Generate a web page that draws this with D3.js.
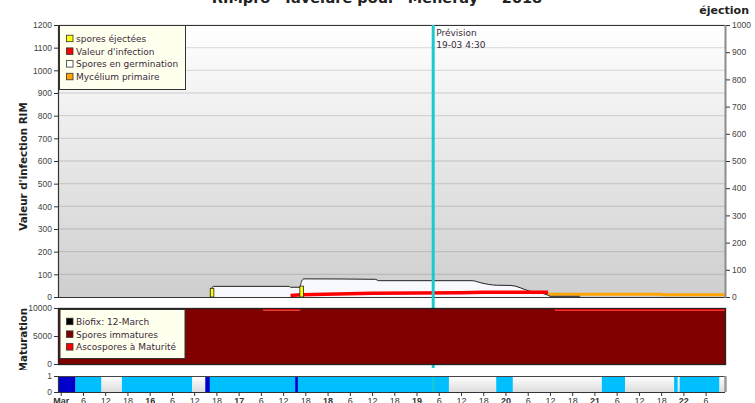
<!DOCTYPE html>
<html>
<head>
<meta charset="utf-8">
<script src="https://cdn.jsdelivr.net/npm/d3@7"></script>
<style>
  body { margin: 0; background: #fff; }
  svg { display: block; font-family: "DejaVu Sans", sans-serif; }
</style>
</head>
<body>
<svg width="755" height="403"></svg>
<script>
const parse = d3.timeParse('%Y-%m-%d %H:%M');

// DATA
const germTimes = ['2018-03-16 16:30','2018-03-16 16:50','2018-03-16 17:10','2018-03-17 13:40','2018-03-17 14:00','2018-03-17 16:30','2018-03-17 17:00','2018-03-17 17:40','2018-03-18 13:00','2018-03-18 13:40','2018-03-19 15:00','2018-03-19 17:30','2018-03-19 21:30','2018-03-20 01:30','2018-03-20 06:30','2018-03-20 11:30','2018-03-20 12:00','2018-03-20 20:00','2018-03-20 20:10'];
const germValues = [0, 40, 47, 47, 43, 43, 70, 80, 78, 72, 72, 62, 52, 51, 26, 8, 3, 3, 0];

const infTimes = ['2018-03-17 14:00','2018-03-17 17:00','2018-03-18 12:00','2018-03-19 12:00','2018-03-19 18:00','2018-03-20 11:30'];
const infValues = [7, 10, 16, 19, 21, 21];

const ejectTimes = ['2018-03-16 16:50','2018-03-17 17:00'];
const ejectValues = [32, 40];

const mycTimes = ['2018-03-20 11:30','2018-03-21 18:00','2018-03-21 18:30','2018-03-22 11:14'];
const mycValues = [12, 12, 10, 10];

const matTimes = ['2018-03-14 23:32','2018-03-17 06:35','2018-03-17 16:35','2018-03-20 13:25','2018-03-22 11:14'];
const immature = [9800, 9550, 9800, 9500, 9500];
const mature = [0, 250, 0, 300, 300];

const wetTimes = ['2018-03-14 23:32','2018-03-15 04:00','2018-03-15 11:00','2018-03-15 16:30','2018-03-16 11:30','2018-03-16 15:00','2018-03-16 16:15','2018-03-17 15:15','2018-03-17 16:00','2018-03-19 08:45','2018-03-19 21:30','2018-03-20 02:00','2018-03-21 02:00','2018-03-21 08:15','2018-03-21 21:30','2018-03-21 22:30','2018-03-21 23:00','2018-03-22 09:45'];
const wetState = ['pluie','humide','sec','humide','sec','pluie','humide','pluie','humide','sec','humide','sec','humide','sec','humide','sec','humide','sec'];

const legendTop = ['spores éjectées', "Valeur d'infection", 'Spores en germination', 'Mycélium primaire'];
const legendTopColors = ['#ffff00', '#ff0000', '#ffffff', '#ffa500'];
const legendMat = ['Biofix: 12-March', 'Spores immatures', 'Ascospores à Maturité'];
const legendMatColors = ['#000000', '#800000', '#ff0000'];

const forecast = '2018-03-19 04:30';
const domainStart = '2018-03-14 23:32';
const domainEnd = '2018-03-22 11:14';

// LAYOUT
const svg = d3.select('svg');
const L = 59, R = 725;
const T1 = 25, B1 = 297;
const T2 = 308, B2 = 364;
const T3 = 376, B3 = 392;
const ink = '#333';
const fmt = d3.format('d');

const x = d3.scaleTime().domain([parse(domainStart), parse(domainEnd)]).range([L, R]);
const yL = d3.scaleLinear().domain([0, 1200]).range([B1, T1]);
const yR = d3.scaleLinear().domain([0, 1000]).range([B1, T1]);
const yM = d3.scaleLinear().domain([0, 10000]).range([B2, T2]);
const yW = d3.scaleLinear().domain([0, 1]).range([B3, T3]);

const defs = svg.append('defs');
const bg = defs.append('linearGradient').attr('id', 'bgGrad')
  .attr('x1', 0).attr('y1', 0).attr('x2', 0).attr('y2', 1);
bg.append('stop').attr('offset', '0%').attr('stop-color', '#ffffff');
bg.append('stop').attr('offset', '100%').attr('stop-color', '#cecece');
const dry = defs.append('linearGradient').attr('id', 'dryGrad')
  .attr('x1', 0).attr('y1', 0).attr('x2', 0).attr('y2', 1);
dry.append('stop').attr('offset', '0%').attr('stop-color', '#ffffff');
dry.append('stop').attr('offset', '100%').attr('stop-color', '#dcdcdc');
defs.append('clipPath').attr('id', 'clipTop')
  .append('rect').attr('x', L).attr('y', T1).attr('width', R - L).attr('height', B1 - T1);
defs.append('clipPath').attr('id', 'clipMatLabel')
  .append('rect').attr('x', 0).attr('y', 300).attr('width', 50).attr('height', 70);

function styleAxis(g, size) {
  g.select('.domain').remove();
  g.selectAll('.tick line').attr('stroke', ink);
  g.selectAll('.tick text').attr('fill', '#444').style('font-size', size || '8.5px');
}

// TITLE
svg.append('text')
  .attr('x', 377).attr('y', 3)
  .attr('text-anchor', 'middle')
  .style('font-weight', 'bold').style('font-size', '14.5px').attr('fill', '#222')
  .text('RIMpro "Tavelure pour" Meneray" - 2018');

svg.append('text')
  .attr('x', 749).attr('y', 14)
  .attr('text-anchor', 'end')
  .style('font-weight', 'bold').style('font-size', '11px').attr('fill', '#222')
  .text('éjection');

// TOP PANEL
svg.append('rect')
  .attr('x', L).attr('y', T1).attr('width', R - L).attr('height', B1 - T1)
  .attr('fill', 'url(#bgGrad)');

svg.append('g')
  .selectAll('line')
  .data(d3.range(100, 1201, 100))
  .join('line')
    .attr('x1', L).attr('x2', R)
    .attr('y1', d => yL(d)).attr('y2', d => yL(d))
    .attr('stroke', '#000').attr('stroke-opacity', 0.11).attr('stroke-width', 1.3);

const plot = svg.append('g').attr('clip-path', 'url(#clipTop)');

const myc = mycTimes.map((t, i) => ({ t: parse(t), v: mycValues[i] }));
plot.append('path')
  .datum(myc)
  .attr('d', d3.line().x(d => x(d.t)).y(d => yL(d.v)))
  .attr('fill', 'none').attr('stroke', '#ffa500').attr('stroke-width', 3);

const germ = germTimes.map((t, i) => ({ t: parse(t), v: germValues[i] }));
plot.append('path')
  .datum(germ)
  .attr('d', d3.area().x(d => x(d.t)).y0(B1).y1(d => yL(d.v)))
  .attr('fill', '#f8f8ff');
plot.append('path')
  .datum(germ)
  .attr('d', d3.line().x(d => x(d.t)).y(d => yL(d.v)).curve(d3.curveMonotoneX))
  .attr('fill', 'none').attr('stroke', '#222').attr('stroke-width', 1);

const inf = infTimes.map((t, i) => ({ t: parse(t), v: infValues[i] }));
plot.append('path')
  .datum(inf)
  .attr('d', d3.line().x(d => x(d.t)).y(d => yL(d.v)))
  .attr('fill', 'none').attr('stroke', '#ff0000').attr('stroke-width', 3.5);

const eject = ejectTimes.map((t, i) => ({ t: parse(t), v: ejectValues[i] }));
plot.selectAll('rect.eject')
  .data(eject)
  .join('rect')
    .attr('class', 'eject')
    .attr('x', d => x(d.t) - 1.8).attr('width', 3.6)
    .attr('y', d => yR(d.v)).attr('height', d => B1 - yR(d.v))
    .attr('fill', '#ffff00').attr('stroke', '#222').attr('stroke-width', 0.8);

// frame
svg.append('line').attr('x1', L).attr('x2', R).attr('y1', T1 + 0.5).attr('y2', T1 + 0.5)
  .attr('stroke', ink).attr('stroke-width', 1.2);
svg.append('line').attr('x1', L).attr('x2', R).attr('y1', B1 + 0.5).attr('y2', B1 + 0.5)
  .attr('stroke', ink).attr('stroke-width', 1.2);
svg.append('line').attr('x1', L - 0.5).attr('x2', L - 0.5).attr('y1', T1).attr('y2', B1 + 1)
  .attr('stroke', ink).attr('stroke-width', 1.2);
svg.append('line').attr('x1', R + 0.5).attr('x2', R + 0.5).attr('y1', T1).attr('y2', B1 + 1)
  .attr('stroke', '#8c8c8c').attr('stroke-width', 2);

svg.append('g')
  .attr('transform', `translate(${L - 1},0)`)
  .call(d3.axisLeft(yL).tickValues(d3.range(0, 1201, 100)).tickSize(4).tickPadding(2).tickFormat(fmt))
  .call(styleAxis);
svg.append('g')
  .attr('transform', `translate(${R + 1},0)`)
  .call(d3.axisRight(yR).tickValues(d3.range(0, 1001, 100)).tickSize(4).tickPadding(2).tickFormat(fmt))
  .call(styleAxis);

svg.append('text')
  .attr('transform', `translate(27,${(103 + 230) / 2}) rotate(-90)`)
  .attr('text-anchor', 'middle')
  .style('font-weight', 'bold').style('font-size', '10.3px').attr('fill', '#222')
  .text("Valeur d'infection RIM");

// forecast
const xf = x(parse(forecast));
svg.append('line')
  .attr('x1', xf).attr('x2', xf).attr('y1', T1).attr('y2', 368)
  .attr('stroke', '#1cc9cc').attr('stroke-width', 3);
svg.append('text')
  .attr('x', xf + 3).attr('y', 36)
  .style('font-size', '9px').attr('fill', '#3a2a3a')
  .text('Prévision');
svg.append('text')
  .attr('x', xf + 3).attr('y', 47.5)
  .style('font-size', '9px').attr('fill', '#3a2a3a')
  .text('19-03 4:30');

// legend top
const lg1 = svg.append('g');
lg1.append('rect')
  .attr('x', L + 0.5).attr('y', T1 + 0.5).attr('width', 126).attr('height', 64)
  .attr('fill', '#ffffee').attr('stroke', ink).attr('stroke-width', 1);
legendTop.forEach((name, i) => {
  const cy = 38.7 + i * 12.7;
  lg1.append('rect')
    .attr('x', 66.5).attr('y', cy - 3.5).attr('width', 6.5).attr('height', 6.5)
    .attr('fill', legendTopColors[i]).attr('stroke', ink).attr('stroke-width', 0.8);
  lg1.append('text')
    .attr('x', 76).attr('y', cy + 3.3)
    .style('font-size', '9px').attr('fill', '#3a2a3a')
    .text(name);
});

// MATURATION PANEL
const mat = matTimes.map((t, i) => ({ t: parse(t), imm: immature[i], mat: mature[i] }));
svg.append('path')
  .datum(mat)
  .attr('d', d3.area().curve(d3.curveStepAfter).x(d => x(d.t)).y0(B2).y1(d => yM(d.imm)))
  .attr('fill', '#800000');
svg.append('path')
  .datum(mat)
  .attr('d', d3.area().curve(d3.curveStepAfter).x(d => x(d.t)).y0(d => yM(d.imm)).y1(d => yM(d.imm + d.mat)))
  .attr('fill', '#ff0000');
svg.append('rect')
  .attr('x', L - 0.5).attr('y', T2 + 0.5).attr('width', R - L + 1).attr('height', B2 - T2)
  .attr('fill', 'none').attr('stroke', '#222').attr('stroke-width', 1.3);

svg.append('g')
  .attr('transform', `translate(${L - 1},0)`)
  .call(d3.axisLeft(yM).tickValues([0, 5000, 10000]).tickSize(4).tickPadding(2).tickFormat(fmt))
  .call(styleAxis);

svg.append('g').attr('clip-path', 'url(#clipMatLabel)')
  .append('text')
  .attr('transform', 'translate(27,340) rotate(-90)')
  .attr('text-anchor', 'middle')
  .style('font-weight', 'bold').style('font-size', '10.3px').attr('fill', '#222')
  .text('Maturation');

const lg2 = svg.append('g');
lg2.append('rect')
  .attr('x', L + 1).attr('y', 309.5).attr('width', 125).attr('height', 49)
  .attr('fill', '#ffffee').attr('stroke', ink).attr('stroke-width', 1);
legendMat.forEach((name, i) => {
  const cy = 321.7 + i * 12.7;
  lg2.append('rect')
    .attr('x', 66.5).attr('y', cy - 3.5).attr('width', 6.5).attr('height', 6.5)
    .attr('fill', legendMatColors[i]).attr('stroke', ink).attr('stroke-width', 0.8);
  lg2.append('text')
    .attr('x', 76).attr('y', cy + 3.3)
    .style('font-size', '9px').attr('fill', '#3a2a3a')
    .text(name);
});

// WETNESS BAR
const wetColor = { pluie: '#0000cd', humide: '#00bfff', sec: 'url(#dryGrad)' };
const wet = wetTimes.map((t, i) => ({
  t0: parse(t),
  t1: i + 1 < wetTimes.length ? parse(wetTimes[i + 1]) : parse(domainEnd),
  s: wetState[i]
}));
svg.append('g')
  .selectAll('rect')
  .data(wet)
  .join('rect')
    .attr('x', d => x(d.t0)).attr('width', d => x(d.t1) - x(d.t0))
    .attr('y', yW(1)).attr('height', yW(0) - yW(1))
    .attr('fill', d => wetColor[d.s]);

svg.append('line')
  .attr('x1', xf).attr('x2', xf).attr('y1', T3).attr('y2', B3)
  .attr('stroke', '#1cc9cc').attr('stroke-width', 2);

svg.append('line').attr('x1', L).attr('x2', R).attr('y1', T3 + 0.5).attr('y2', T3 + 0.5)
  .attr('stroke', '#444').attr('stroke-width', 1);
svg.append('line').attr('x1', R + 0.5).attr('x2', R + 0.5).attr('y1', T3).attr('y2', B3)
  .attr('stroke', '#9a9a9a').attr('stroke-width', 2.5);
svg.append('line').attr('x1', L - 0.5).attr('x2', L - 0.5).attr('y1', T3).attr('y2', B3 + 1)
  .attr('stroke', ink).attr('stroke-width', 1.2);
svg.append('line').attr('x1', L).attr('x2', R).attr('y1', B3 + 0.5).attr('y2', B3 + 0.5)
  .attr('stroke', ink).attr('stroke-width', 1);

svg.append('g')
  .attr('transform', `translate(${L - 1},0)`)
  .call(d3.axisLeft(yW).tickValues([0, 1]).tickSize(4).tickPadding(2).tickFormat(fmt))
  .call(styleAxis);

const ticks = d3.timeHour.every(6).range(parse('2018-03-15 00:00'), parse(domainEnd));
const xAxis = svg.append('g')
  .attr('transform', `translate(0,${B3 + 1})`)
  .call(d3.axisBottom(x).tickValues(ticks).tickSize(3).tickPadding(2)
    .tickFormat(d => d.getHours() === 0 ? (d.getDate() === 15 ? 'Mar' : d.getDate()) : d.getHours()));
xAxis.call(styleAxis, '9px');
xAxis.selectAll('.tick text')
  .attr('fill', '#333')
  .style('font-weight', d => d.getHours() === 0 ? 'bold' : 'normal');
</script>
</body>
</html>
